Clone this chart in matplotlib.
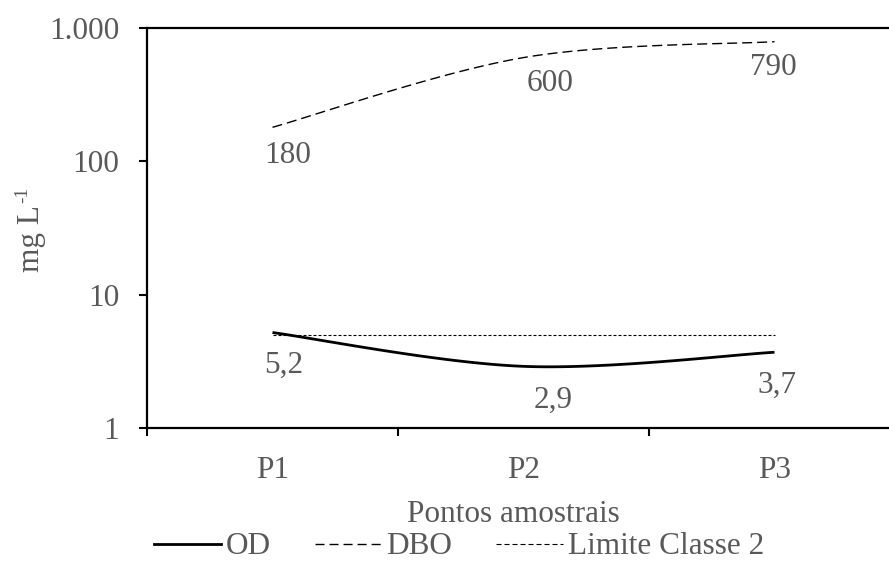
import numpy as np
import matplotlib
matplotlib.use("Agg")
import matplotlib.pyplot as plt
from matplotlib.lines import Line2D
from matplotlib.ticker import FixedLocator, NullFormatter

categories = ["P1", "P2", "P3"]
od = [5.2, 2.9, 3.7]
dbo = [180, 600, 790]
limite = [5, 5, 5]
od_labels = ["5,2", "2,9", "3,7"]
dbo_labels = ["180", "600", "790"]
y_ticks = [1, 10, 100, 1000]
y_ticklabels = ["1", "10", "100", "1.000"]

# label offsets in points (x, y)
od_offsets = [(8, -23.5), (21, -24.5), (2, -23.5)]
dbo_offsets = [(11, -20.5), (19, -18.5), (-1, -18.5)]

TXT = "#595959"
plt.rcParams['font.family'] = ['Liberation Serif', 'DejaVu Serif']
FS = 22.5

def smooth(xs, ys, n=60):
    x = np.asarray(xs, float)
    y = np.log10(np.asarray(ys, float))
    P = np.column_stack([x, y])
    Pp = np.vstack([P[0], P, P[-1]])
    out = []
    for i in range(1, len(Pp) - 2):
        p0, p1, p2, p3 = Pp[i - 1], Pp[i], Pp[i + 1], Pp[i + 2]
        t = np.linspace(0, 1, n)[:, None]
        seg = 0.5 * ((2 * p1) + (-p0 + p2) * t + (2 * p0 - 5 * p1 + 4 * p2 - p3) * t ** 2
                     + (-p0 + 3 * p1 - 3 * p2 + p3) * t ** 3)
        out.append(seg if i == 1 else seg[1:])
    S = np.vstack(out)
    return S[:, 0], 10 ** S[:, 1]

W, H = 889, 561
fig = plt.figure(figsize=(W / 100, H / 100), dpi=100)
left, right, top, bottom = 147, 900, 28, 428
ax = fig.add_axes([left / W, (H - bottom) / H, (right - left) / W, (bottom - top) / H])

xs = np.arange(len(categories))
sx, sy = smooth(xs, od)
ax.plot(sx, sy, color="black", lw=2.0, solid_capstyle="butt")
sx, sy = smooth(xs, dbo)
ax.plot(sx, sy, color="black", lw=1.0, dashes=(7.2, 3.6))
ax.plot(xs, limite, color="black", lw=0.8, dashes=(2.7, 1.8))

for i in range(len(categories)):
    ax.annotate(od_labels[i], (xs[i], od[i]), xytext=od_offsets[i], textcoords="offset points",
                ha="center", va="center", fontsize=FS, color=TXT)
    ax.annotate(dbo_labels[i], (xs[i], dbo[i]), xytext=dbo_offsets[i], textcoords="offset points",
                ha="center", va="center", fontsize=FS, color=TXT)

ax.set_yscale("log")
ax.set_ylim(1, 1000)
ax.set_xlim(-0.5, len(categories) - 0.5)
ax.yaxis.set_major_locator(FixedLocator(y_ticks))
ax.set_yticklabels(y_ticklabels)
ax.yaxis.set_minor_locator(FixedLocator([]))
ax.yaxis.set_minor_formatter(NullFormatter())

ax.xaxis.set_major_locator(FixedLocator(np.arange(len(categories) + 1) - 0.5))
ax.xaxis.set_major_formatter(NullFormatter())
ax.xaxis.set_minor_locator(FixedLocator(xs))
ax.set_xticklabels(categories, minor=True)
ax.tick_params(axis="x", which="minor", length=0, pad=20, labelsize=FS, labelcolor=TXT)
ax.tick_params(axis="x", which="major", length=6, width=1.5, direction="out")
ax.tick_params(axis="y", which="major", length=6, width=1.5, direction="out", pad=14,
               labelsize=FS, labelcolor=TXT)

for s in ["left", "bottom", "top"]:
    ax.spines[s].set_linewidth(1.6)
    ax.spines[s].set_color("black")
ax.spines["right"].set_visible(False)

fig.text(513 / W, 1 - 514 / H, "Pontos amostrais", ha="center", va="center", fontsize=FS, color=TXT)
fig.text(32 / W, 1 - 238 / H, "mg L", rotation=90, ha="center", va="center", fontsize=FS, color=TXT)
fig.text(23 / W, 1 - 195 / H, "-1", rotation=90, ha="center", va="center", fontsize=FS * 0.62, color=TXT)

handles = [Line2D([], [], color="black", lw=2.0),
           Line2D([], [], color="black", lw=1.0, dashes=(6.5, 3.6)),
           Line2D([], [], color="black", lw=0.8, dashes=(4.5, 2.7))]
fig.legend(handles, ["OD", "DBO", "Limite Classe 2"], loc="center", bbox_to_anchor=(459 / W, 1 - 547 / H),
           ncol=3, frameon=False, fontsize=FS, labelcolor=TXT, handlelength=2.15, handletextpad=0.15,
           columnspacing=1.4, borderpad=0)

fig.savefig("out.png", dpi=100)
